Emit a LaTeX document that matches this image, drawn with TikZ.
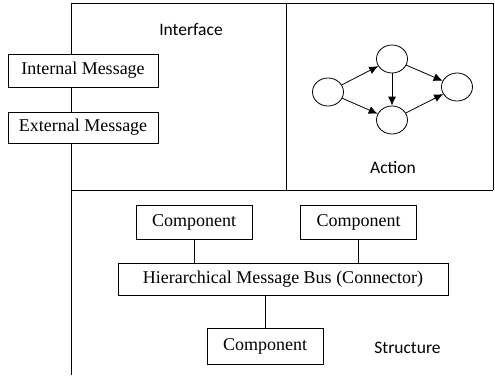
\documentclass[tikz,border=0pt]{standalone}
\usepackage{fontspec}
\setmainfont{Liberation Serif}
\newfontfamily\labelfont{Carlito}
\usetikzlibrary{arrows.meta,shapes.geometric}

\begin{document}
\begin{tikzpicture}[x=1pt, y=-1pt, thick, >={Latex[length=9pt,width=8pt]},
  main/.style = {draw, fill=white, inner sep=0pt, font=\fontsize{18}{20}\selectfont},
  act/.style = {draw, ellipse, minimum width=31, minimum height=28, inner sep=0pt},
  lbl/.style = {font=\labelfont\fontsize{17.5}{20}\selectfont}]

\useasboundingbox (0,0) rectangle (495,375);

% frame
\draw (71,375) -- (71,3) -- (493,3) -- (493,190);
\draw (71,190) -- (493,190);
\draw (286,3) -- (286,190);

% interface
\node[lbl] (int) at (191,30) {Interface};
\node[main, minimum width=150, minimum height=33] (im) at (83,70.5) {Internal Message};
\node[main, minimum width=150, minimum height=31] (em) at (83,127.5) {External Message};

% action
\node[act] (a1) at (328,92) {};
\node[act] (a2) at (392,59) {};
\node[act] (a3) at (392,120) {};
\node[act] (a4) at (457,87) {};
\node[lbl] (act) at (393,168) {Action};

\draw[->] (a1) -- (a2);
\draw[->] (a1) -- (a3);
\draw[->] (a2) -- (a3);
\draw[->] (a2) -- (a4);
\draw[->] (a3) -- (a4);

% structure
\node[main, minimum width=116, minimum height=34] (c1) at (194,222) {Component};
\node[main, minimum width=116, minimum height=34] (c2) at (358.5,222) {Component};
\node[main, minimum width=330, minimum height=32] (bus) at (283,279) {Hierarchical Message Bus (Connector)};
\node[main, minimum width=116, minimum height=36] (c3) at (265,346) {Component};
\node[lbl] (str) at (407.5,348) {Structure};

\draw (c1.south) -- (c1.south |- bus.north);
\draw (c2.south) -- (c2.south |- bus.north);
\draw (c3.north) -- (c3.north |- bus.south);

\end{tikzpicture}
\end{document}
